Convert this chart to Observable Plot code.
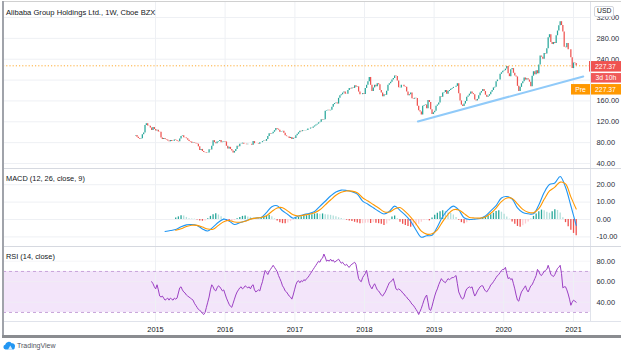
<!DOCTYPE html>
<html><head><meta charset="utf-8">
<script src="https://cdn.jsdelivr.net/npm/d3@7"></script>
<script src="https://cdn.jsdelivr.net/npm/@observablehq/plot@0.6"></script>
<style>
html,body{margin:0;padding:0;background:#fff;}
#chart{position:relative;width:621px;height:352px;overflow:hidden;background:#fff;font-family:"Liberation Sans",Arial,sans-serif;}
#chart svg{position:absolute;left:0;}
.lbl{position:absolute;font-size:7.4px;color:#131722;white-space:nowrap;line-height:1;}
.ln{position:absolute;}
</style></head><body><div id="chart"></div>
<script>
// ---- weekly grid ----
const firstWeek = new Date("2014-09-19");
const ipoOpen = 92.7;
const lastPrice = 227.37, prePrice = 227.37, countdown = "3d 10h";
const chartTitle = "Alibaba Group Holdings Ltd., 1W, Cboe BZX";
const macdTitle = "MACD (12, 26, close, 9)";
const rsiTitle = "RSI (14, close)";
const currency = "USD";

// weekly closes
const close2014 = [93.9,90.5,88.1,86.4,87.5,95.0,98.6,113,116,112,111.6,108,103.5,109,105];
const close2015 = [102.5,104,100.5,100,89,86,88,86,85,83,81.5,84,82,82.5,85,84,82.5,81.5,87,92,93,89.5,89,87.5,84.5,82,81,79,80,79,78,77,72,65,67,63,61,60.5,59.5,60,66.5,66,73,83.8,80,78,81,82,84,80,81,82];
const close2016 = [81.3,73,68,71,67,64,60,63,67,73,72,77,77.5,79,77,77,76,77,77,77,75,82,78,78,78,77,80,80,82,83,82.5,86,92,97,96,97,100,103,107,105.8,104,100,101,101.7,98,93,91.5,91,88,90,86,88.5,87.8];
const close2017 = [93,96,99,102,101,103,102.5,103,103.5,106,106,108,107.8,110,112,114,115.5,118,119,124,123,124,140,141,142,141,142,148,153,155,156,154,165,170,171.8,175,177,173,172.7,180,184,183,184.9,184,189,186,187,177,172,172,174,172.4];
const close2018 = [184,190,197,205,190,178,185,190,187,193,191,180,175,168,172,171,178.5,190,193,196,200,203,208,207,198,185.5,185,190,190,187,186,177,170,172,175,164,163,165,164.8,150,141,139,133,150,151,152,145,160.9,157,143,134,137.1];
const close2019 = [140,150,152,156,168,167,175,176,180,173,178,180,182.4,184,186,186,188,193,174,160,152,149.2,154,159,167,169.5,173,177,174,172,162,160,163,170,175,178,182,178,171,167,169,172,176.7,180,185,186,197,200,200,211,214,217];
const close2020 = [218,221,226,212,206.6,220,222,213,208,206,188,178,186,193,197,204,200,202.7,200,196,187,207.4,216,210,218,212,229,246,244,240,251,250,260,281,287,272,268,272,270,285,294,304,312,304.7,292,263,262,270,258,258,243,222];
const close2021 = [232.7,232,227.37];

// weekly RSI(14)
const rsi2014 = [null,null,null,null,null,null,null,null,null,null,null,null,60,58,55];
const rsi2015 = [53,57,52,46,45,46,44,42,43,44,42,44,43,42,44,43,44,49,54,55,52,50,49,47,46,45,44,43,42,39,37,35,33,32,31,29,28,30,35,40,45,52,57,55,52,51,54,56,55,53,51,52];
const rsi2016 = [48,44,41,38,36,35,39,43,47,50,52,54,55,53,54,56,55,54,55,53,56,57,52,50,51,52,51,56,60,66,71,69,67,70,72,74,76,74,72,70,66,63,60,56,54,51,50,48,46,45,43,47,52];
const rsi2017 = [57,60,61,59,61,60,62,61,63,64,66,68,70,72,74,76,78,80,79,82,83,87,84,80,81,80,82,80,81,79,80,81,82,80,78,79,77,76,77,75,74,76,77,78,79,77,70,63,61,60,64,66];
const rsi2018 = [68,71,64,58,55,53,56,58,55,52,51,49,47,46,48,50,53,56,59,60,61,63,58,53,52,53,52,51,49,48,46,45,43,42,40,38,37,35,33,31,28,31,34,38,42,45,47,40,33,32,36,41];
const rsi2019 = [46,50,53,57,60,63,61,60,59,61,63,62,63,64,64,65,66,58,50,47,44,43,45,50,53,54,55,54,55,50,46,48,51,53,55,56,56,53,51,50,52,54,57,58,60,62,64,66,67,69,71,72];
const rsi2020 = [72,74,68,63,64,62,63,58,53,47,42,41,46,50,52,54,56,52,50,53,56,57,60,63,66,72,70,67,66,68,70,71,72,76,72,67,66,65,67,70,73,74,76,68,54,55,55,52,48,43,37,40];
const rsi2021 = [42,41,40];

// MACD line, every 4 weeks from week 22
const macdFirstWeek = 22, macdStepWeeks = 4;
const macdValues = [-6.9,-6.3,-5.8,-4.2,-3.1,-2.9,-3.4,-5.4,-6.6,-4.4,-1.6,0.2,-0.8,-2.9,-1.9,-0.9,0.3,0.9,1.2,4.0,7.3,7.9,5.0,2.9,0.7,2.0,2.8,3.5,4.6,7.6,10.5,13.5,15.8,16.9,16.7,16.0,14.6,10.6,8.8,6.8,4.7,3.2,4.6,7.7,5.2,2.5,-1.0,-6.0,-10.2,-9.3,-9.1,-4.3,1.7,5.5,7.7,5.5,1.0,0.0,0.2,0.6,2.0,5.0,8.0,12.4,13.2,11.8,6.7,4.0,3.3,3.3,8.4,15.5,20.1,21.0,24.7,18.5,7.9,-3.4];
// Signal line, every 4 weeks from week 30
const signalFirstWeek = 30, signalStepWeeks = 4;
const signalValues = [-6.2,-5.3,-4.0,-3.3,-3.4,-4.3,-5.5,-5.6,-3.4,-1.3,-0.6,-1.4,-1.6,-1.0,0.2,0.8,1.1,2.2,4.6,6.6,6.8,4.8,2.7,2.0,2.5,3.0,3.9,5.6,8.4,11.2,13.9,15.6,16.4,16.3,15.4,12.5,10.6,8.6,6.6,4.5,4.3,6.0,6.9,4.5,1.4,-2.5,-6.7,-8.4,-8.2,-5.9,-1.2,3.0,5.6,5.5,3.4,1.2,0.9,0.8,1.5,3.6,6.6,10.3,12.4,12.1,9.0,5.8,4.2,3.9,6.2,11.6,16.4,18.6,21.5,20.5,13.0,6.0];
// Histogram, every 2 weeks from week 30
const histFirstWeek = 30, histStepWeeks = 2;
const histValues = [0.8,1.5,2.2,2.0,1.2,0.5,0.3,0.2,-0.3,-0.8,-1.0,-0.8,0.5,1.8,2.8,3.3,2.6,1.6,0.4,-1.2,-1.5,-1.3,-0.6,0.4,1.2,1.8,2.0,1.4,1.2,0.8,0.6,0.4,0.8,1.4,2.0,2.4,1.6,0.4,-0.8,-1.8,-2.4,-2.5,-2.0,-1.2,-0.4,0.6,1.2,1.6,1.8,2.2,2.6,2.8,3.2,3.3,3.0,3.2,2.8,2.6,2.4,2.0,1.6,1.0,0.6,0.2,-0.4,-0.8,-1.2,-1.6,-2.0,-2.5,-2.4,-2.2,-2.0,-2.3,-1.8,-2.1,-2.4,-2.8,-3.4,-2.6,-0.8,1.4,2.0,0.4,-1.6,-2.8,-3.5,-4.0,-4.4,-4.2,-3.8,-2.8,-1.6,-0.6,-0.3,-0.8,0.8,2.4,3.6,4.4,5.0,4.6,3.8,3.4,2.6,1.2,-0.4,-1.8,-2.4,-1.8,-0.9,-0.4,-0.2,0.2,0.4,0.6,1.2,2.0,2.8,3.6,4.6,5.0,4.2,3.0,1.4,0.2,-1.4,-2.8,-4.0,-4.4,-3.6,-2.6,-1.4,0.2,1.8,3.2,4.4,5.4,5.0,4.2,3.6,4.4,5.6,5.2,3.8,1.0,-1.8,-4.2,-6.2,-8.0,-9.3];

// axes / guides
const priceTicks = [40,80,120,160,200,240,280,320];
const priceTickLabels = [40,80,120,160,240,280,320]; // 200.00 is hidden behind the countdown label
const macdTicks = [-10,0,10,20];
const rsiTicks = [40,60,80];
const rsiBand = {lo: 30, hi: 70};
const yearLabels = ["2015","2016","2017","2018","2019","2020","2021"];
const trendLine = [{date: "2018-10-08", price: 120.6}, {date: "2021-02-21", price: 207.0}];

// ---- build ----
const closes = [...close2014,...close2015,...close2016,...close2017,...close2018,...close2019,...close2020,...close2021];
const rsiAll = [...rsi2014,...rsi2015,...rsi2016,...rsi2017,...rsi2018,...rsi2019,...rsi2020,...rsi2021];
const weekDates = closes.map((_, i) => d3.utcDay.offset(firstWeek, 7 * i));
const candles = closes.map((c, i) => ({date: weekDates[i], open: i ? closes[i - 1] : ipoOpen, close: c}));
const rsiPts = rsiAll.map((v, i) => ({date: weekDates[i], v})).filter(d => d.v != null);
const macdPts = macdValues.map((v, k) => ({date: weekDates[macdFirstWeek + macdStepWeeks * k], v}));
const signalPts = signalValues.map((v, k) => ({date: weekDates[signalFirstWeek + signalStepWeeks * k], v}));
const histPts = histValues.map((v, k) => ({date: weekDates[histFirstWeek + histStepWeeks * k], v, prev: k ? histValues[k - 1] : 0}));
const yearTicks = yearLabels.map(y => new Date(y + "-01-01"));
const xDomain = [new Date("2012-10-26"), new Date("2021-03-31")];

const upColor = "#26a69a", downColor = "#ef5350";
const gridColor = "#eef0f4";
const W = 621, LEFT = 3, RIGHT = 31;
const style = {background: "transparent", fontFamily: "Liberation Sans, Arial, sans-serif", fontSize: "7.4px", color: "#2a2e39", overflow: "visible"};
const common = {width: W, marginLeft: LEFT, marginRight: RIGHT, marginTop: 0, style, color: {type: "identity"}};
const fmt2 = d => d.toFixed(2);
const axisOpts = {anchor: "right", tickSize: 0, tickPadding: 6, tickFormat: fmt2, label: null};

const pricePlot = Plot.plot({
  ...common, height: 166, marginBottom: 0,
  x: {type: "utc", domain: xDomain, axis: null, label: null},
  y: {domain: [30.41, 348.77], axis: null, label: null},
  marks: [
    Plot.gridY(priceTicks, {stroke: gridColor, strokeOpacity: 1}),
    Plot.gridX(yearTicks, {stroke: gridColor, strokeOpacity: 1}),
    Plot.ruleY([prePrice], {stroke: "#ff9800", strokeDasharray: "1.2,2", strokeWidth: 1, strokeOpacity: 0.8}),
    Plot.ruleX(candles, {x: "date", y1: "open", y2: "close", stroke: d => d.close >= d.open ? upColor : downColor, strokeWidth: 1.25}),
    Plot.line(trendLine, {x: d => new Date(d.date), y: "price", stroke: "#90caf9", strokeWidth: 2}),
    Plot.axisY(priceTickLabels, axisOpts)
  ]
});

const macdPlot = Plot.plot({
  ...common, height: 77, marginBottom: 0,
  x: {type: "utc", domain: xDomain, axis: null, label: null},
  y: {domain: [-15.52, 28.74], axis: null, label: null},
  marks: [
    Plot.gridY(macdTicks, {stroke: gridColor, strokeOpacity: 1}),
    Plot.gridX(yearTicks, {stroke: gridColor, strokeOpacity: 1}),
    Plot.ruleX(histPts, {x: "date", y1: 0, y2: "v", strokeWidth: 1.3,
      stroke: d => d.v >= 0 ? (d.v >= d.prev ? "#26a69a" : "#b2dfdb") : (d.v < d.prev ? "#ef5350" : "#ffcdd2")}),
    Plot.line(macdPts, {x: "date", y: "v", stroke: "#2196f3", strokeWidth: 1.1, curve: "catmull-rom"}),
    Plot.line(signalPts, {x: "date", y: "v", stroke: "#ff9800", strokeWidth: 1.1, curve: "catmull-rom"}),
    Plot.axisY(macdTicks, axisOpts)
  ]
});

const rsiPlot = Plot.plot({
  ...common, height: 90, marginBottom: 16,
  x: {type: "utc", domain: xDomain, label: null},
  y: {domain: [21.17, 93.37], axis: null, label: null},
  marks: [
    Plot.rect([rsiBand], {x1: () => xDomain[0], x2: () => xDomain[1], y1: "lo", y2: "hi", fill: "#f3e5fa"}),
    Plot.gridY(rsiTicks, {stroke: gridColor, strokeOpacity: 0.6}),
    Plot.gridX(yearTicks, {stroke: gridColor, strokeOpacity: 1}),
    Plot.ruleY([rsiBand.lo, rsiBand.hi], {stroke: "#c7a3d9", strokeDasharray: "3,3", strokeWidth: 1}),
    Plot.line(rsiPts, {x: "date", y: "v", stroke: "#9c40c4", strokeWidth: 1}),
    Plot.axisY(rsiTicks, axisOpts),
    Plot.axisX(yearTicks, {anchor: "bottom", tickSize: 0, tickPadding: 5, tickFormat: d3.utcFormat("%Y"), fill: "#131722", label: null})
  ]
});

const chart = document.getElementById("chart");
pricePlot.style.top = "2px";
macdPlot.style.top = "169px";
rsiPlot.style.top = "247px";
chart.append(pricePlot, macdPlot, rsiPlot);

// price labels on the right scale
const ySc = pricePlot.scale("y");
const py = ySc.apply(lastPrice);
const g = d3.select(pricePlot).append("g").attr("font-size", "6.8px").attr("font-family", "Liberation Sans, Arial, sans-serif");
function box(x0, x1, yc, h, fill, text, tx) {
  g.append("rect").attr("x", x0).attr("y", yc - h / 2).attr("width", x1 - x0).attr("height", h).attr("fill", fill);
  g.append("text").attr("x", tx).attr("y", yc).attr("dy", "0.35em").attr("text-anchor", "middle").attr("fill", "#fff").text(text);
}
const axX = W - RIGHT;
box(axX - 1, W, py + 1, 10.5, "#ef5350", lastPrice.toFixed(2), axX + 15.5);
box(axX + 1, W, py + 12.5, 9.5, "#f05a5a", countdown, axX + 16);
box(axX - 19, axX, py + 24, 10.5, "#ff9800", "Pre", axX - 9.5);
box(axX + 0.5, W, py + 24, 10.5, "#ff9800", prePrice.toFixed(2), axX + 15.5);

// frame and separators
function line(l, t, w, h, c) { const d = document.createElement("div"); d.className = "ln"; Object.assign(d.style, {left: l + "px", top: t + "px", width: w + "px", height: h + "px", background: c}); chart.append(d); }
line(axX, 2, 1, 319, "#e0e3eb");
line(3, 168, 618, 1, "#d6d9e0");
line(3, 246, 618, 1, "#d6d9e0");
line(3, 321, 618, 1, "#e0e3eb");
line(2, 1, 619, 1, "#d0d0d0");
line(2, 1, 1.5, 336, "#a0a3aa");
line(2, 335, 619, 3, "#8a8c90");

function label(text, l, t, extra) { const d = document.createElement("div"); d.className = "lbl"; d.textContent = text; Object.assign(d.style, {left: l + "px", top: t + "px"}, extra || {}); chart.append(d); return d; }
label(chartTitle, 6, 8.5, {fontSize: "7.6px", color: "#131722"});
label(macdTitle, 6, 174.5);
label(rsiTitle, 6, 252.5);
label(currency, 594, 6, {fontSize: "6.8px", border: "1px solid #d1d4dc", borderRadius: "2px", padding: "1px 2px", background: "#fff"});

// TradingView mark
const logo = document.createElementNS("http://www.w3.org/2000/svg", "svg");
logo.setAttribute("width", "13"); logo.setAttribute("height", "9");
logo.style.position = "absolute"; logo.style.left = "3px"; logo.style.top = "341px";
logo.innerHTML = '<path d="M2.5 8.5 A2.4 2.4 0 0 1 2.2 3.8 A3.6 3.6 0 0 1 8.6 2.2 A2.9 2.9 0 0 1 11.8 6.2 A2.3 2.3 0 0 1 10.6 8.5 Z" fill="#2196f3"/><path d="M5 8.5 L7.3 4.6 L9.5 8.5 Z" fill="#fff" opacity="0.8"/>';
chart.append(logo);
label("TradingView", 17, 342, {fontSize: "7px", color: "#50535e"});
</script></body></html>
